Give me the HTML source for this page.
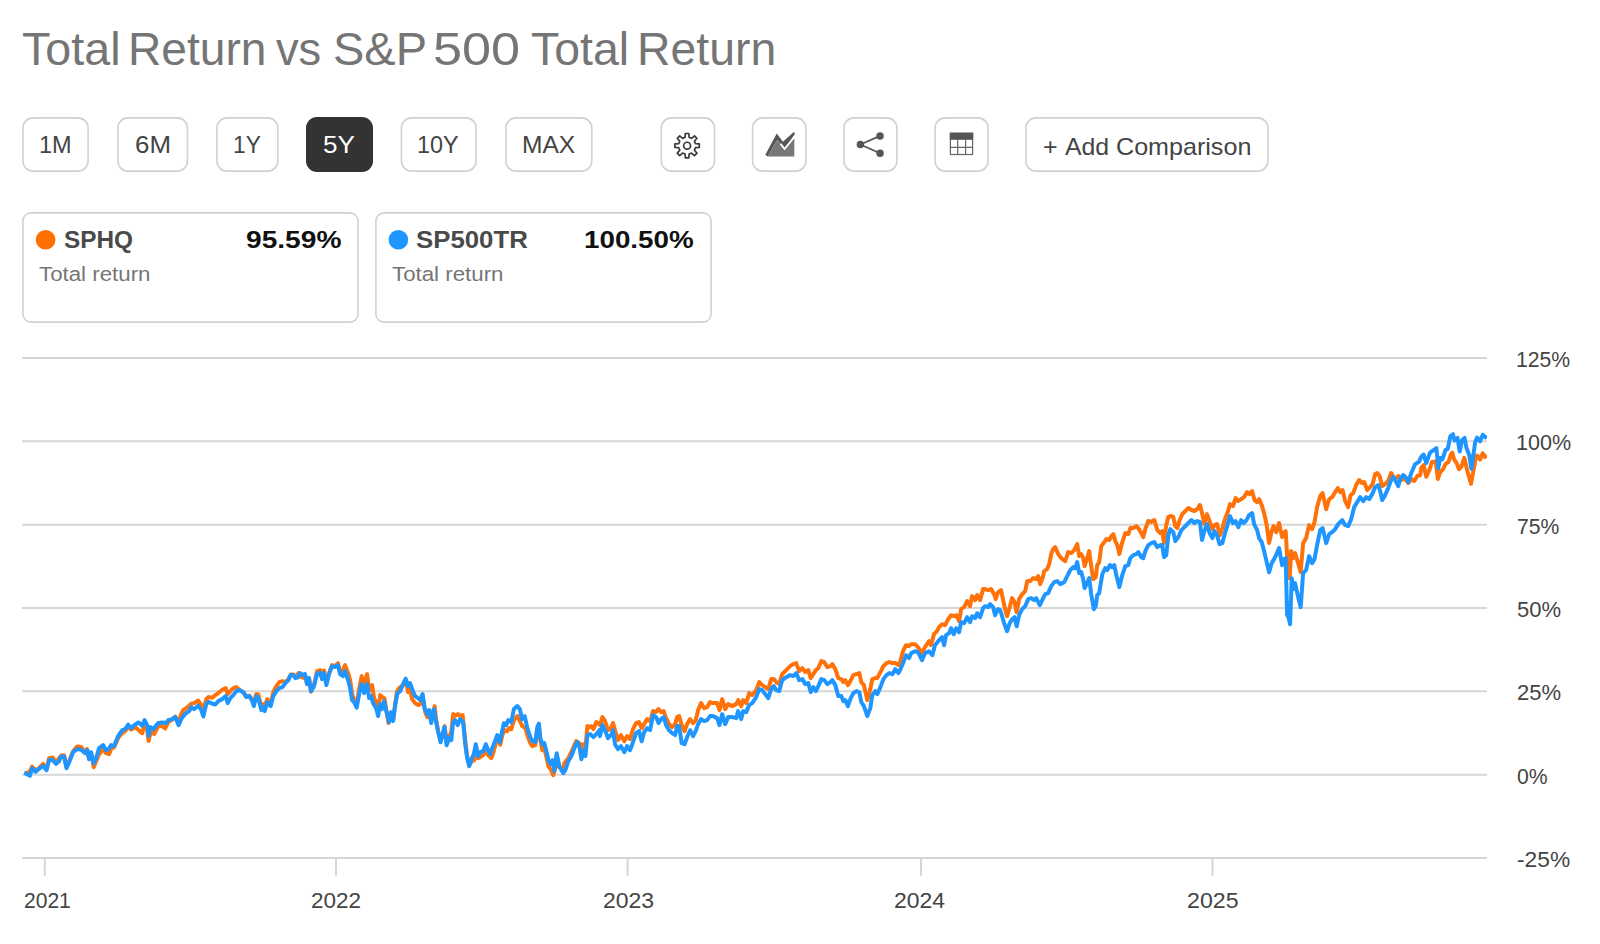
<!DOCTYPE html>
<html><head><meta charset="utf-8">
<style>
html,body{margin:0;padding:0;background:#fff;}
body{width:1600px;height:944px;position:relative;overflow:hidden;font-family:"Liberation Sans",sans-serif;}
.t{position:absolute;white-space:nowrap;line-height:1;transform-origin:0 0;}
.btn{position:absolute;top:117px;height:55px;box-sizing:border-box;border:2px solid #d7d7d7;border-radius:11px;background:#fff;}
.btn.on{background:#333;border-color:#333;}
.card{position:absolute;top:212px;height:111px;box-sizing:border-box;border:2px solid #d7d7d7;border-radius:9px;background:#fff;}
svg{position:absolute;left:0;top:0;}
</style></head><body>
<svg width="1600" height="944" viewBox="0 0 1600 944">
<rect x="22.90" y="117.90" width="65.20" height="53.20" rx="10.10" fill="#fff" stroke="#d1d1d1" stroke-width="1.6"/><rect x="117.90" y="117.90" width="69.50" height="53.20" rx="10.10" fill="#fff" stroke="#d1d1d1" stroke-width="1.6"/><rect x="216.90" y="117.90" width="60.90" height="53.20" rx="10.10" fill="#fff" stroke="#d1d1d1" stroke-width="1.6"/><rect x="306.00" y="117.00" width="67.00" height="55.00" rx="11" fill="#333"/><rect x="401.40" y="117.90" width="74.70" height="53.20" rx="10.10" fill="#fff" stroke="#d1d1d1" stroke-width="1.6"/><rect x="505.90" y="117.90" width="85.90" height="53.20" rx="10.10" fill="#fff" stroke="#d1d1d1" stroke-width="1.6"/><rect x="661.30" y="117.90" width="53.20" height="53.20" rx="10.10" fill="#fff" stroke="#d1d1d1" stroke-width="1.6"/><rect x="752.60" y="117.90" width="53.30" height="53.20" rx="10.10" fill="#fff" stroke="#d1d1d1" stroke-width="1.6"/><rect x="843.90" y="117.90" width="53.00" height="53.20" rx="10.10" fill="#fff" stroke="#d1d1d1" stroke-width="1.6"/><rect x="935.10" y="117.90" width="53.00" height="53.20" rx="10.10" fill="#fff" stroke="#d1d1d1" stroke-width="1.6"/><rect x="1025.90" y="117.90" width="242.00" height="53.20" rx="10.10" fill="#fff" stroke="#d1d1d1" stroke-width="1.6"/><rect x="22.90" y="212.90" width="335.20" height="109.20" rx="8.10" fill="#fff" stroke="#d1d1d1" stroke-width="1.6"/><rect x="375.90" y="212.90" width="335.20" height="109.20" rx="8.10" fill="#fff" stroke="#d1d1d1" stroke-width="1.6"/>
<g stroke="#d6d6d6" stroke-width="2" fill="none">
<path d="M22 358.00H1487 M22 441.33H1487 M22 524.67H1487 M22 608.00H1487 M22 691.33H1487 M22 774.67H1487 M22 858.00H1487"/>
<path d="M44.8 858V875.7 M336 858V875.7 M627.6 858V875.7 M921 858V875.7 M1212.5 858V875.7"/>
</g>
<defs><clipPath id="cl"><rect x="20" y="340" width="1467" height="520"/></clipPath></defs>
<!--LINES-->
<path d="M24.4 772.8 L27.0 773.2 L30.0 771.2 L32.0 766.6 L35.6 770.2 L39.0 768.2 L43.1 763.8 L46.5 769.2 L49.1 758.2 L52.5 757.4 L56.1 762.2 L59.1 758.2 L61.1 755.6 L64.1 755.2 L66.5 767.2 L69.1 761.2 L73.1 751.2 L77.1 746.5 L81.1 747.1 L85.1 752.2 L87.1 749.1 L89.1 758.2 L91.1 753.2 L93.7 767.2 L96.1 761.2 L99.1 754.2 L103.1 749.1 L106.1 753.2 L109.1 754.2 L111.1 749.1 L114.1 747.1 L118.1 738.1 L122.2 733.1 L125.2 731.1 L128.2 727.1 L131.2 729.5 L135.2 727.1 L138.6 730.1 L142.2 733.1 L144.6 724.1 L147.2 730.1 L148.6 741.1 L150.6 732.1 L154.2 734.1 L158.2 726.1 L162.2 726.1 L165.2 728.5 L168.2 722.1 L172.2 719.7 L175.2 716.5 L178.6 723.1 L181.2 714.1 L183.2 710.1 L186.2 708.1 L189.2 705.7 L191.2 703.7 L194.2 703.1 L198.2 700.5 L201.3 705.1 L203.3 710.1 L206.3 699.1 L208.3 697.1 L212.3 697.7 L215.3 695.1 L218.3 693.1 L222.3 689.7 L225.7 688.1 L227.7 694.1 L230.3 691.1 L233.3 688.1 L236.3 687.1 L239.3 689.7 L243.3 692.1 L246.3 696.5 L249.3 695.7 L251.9 699.1 L253.9 703.1 L256.3 694.1 L258.3 694.5 L261.3 707.1 L263.3 704.1 L264.7 706.1 L267.3 699.1 L270.7 704.1 L273.3 692.1 L276.3 686.1 L279.3 682.1 L282.4 681.1 L285.4 682.1 L288.4 679.1 L290.8 674.5 L293.4 674.5 L295.4 677.1 L298.4 673.1 L300.0 676.1 L303.0 677.7 L305.0 675.1 L307.0 683.1 L309.0 678.1 L311.0 691.7 L314.0 685.1 L317.0 671.1 L320.0 670.1 L322.0 674.1 L324.0 670.5 L326.4 683.1 L329.0 673.1 L332.0 665.1 L335.0 666.1 L338.0 663.1 L340.1 672.5 L342.5 671.1 L345.1 665.1 L348.1 673.1 L350.1 680.1 L352.1 694.1 L354.1 700.1 L356.7 705.1 L359.1 689.1 L361.7 676.1 L364.1 686.1 L367.1 674.1 L369.1 690.1 L372.1 685.1 L374.1 698.1 L377.1 704.1 L378.5 710.1 L380.1 695.1 L382.5 697.1 L384.5 698.5 L387.1 715.1 L388.5 723.1 L391.1 713.1 L393.1 720.1 L395.1 704.1 L397.1 691.1 L399.1 688.1 L403.1 685.1 L405.7 680.1 L408.1 692.1 L410.1 690.1 L412.1 699.1 L415.1 703.1 L418.1 705.1 L420.2 704.1 L422.6 696.1 L425.2 712.1 L427.2 717.1 L429.2 711.1 L431.2 721.1 L434.6 706.1 L436.2 720.1 L438.2 731.1 L440.6 741.2 L442.6 735.1 L444.6 726.1 L446.6 742.2 L449.2 736.1 L451.2 732.1 L453.2 714.1 L455.2 715.7 L458.2 714.1 L460.2 716.1 L462.6 715.1 L465.2 740.2 L467.2 756.2 L469.2 765.2 L471.8 761.2 L474.2 760.2 L476.2 748.2 L478.2 758.2 L480.2 757.2 L483.2 755.2 L485.8 748.2 L488.2 755.2 L491.2 758.2 L493.2 753.2 L495.2 745.2 L497.2 738.1 L500.3 744.6 L502.3 735.1 L504.7 730.1 L507.3 731.1 L509.3 728.1 L511.3 729.1 L513.9 720.1 L517.3 716.1 L519.9 721.1 L522.3 726.1 L525.3 728.1 L528.3 738.1 L530.3 743.2 L532.3 746.2 L535.3 745.2 L537.3 730.1 L538.9 726.1 L540.3 740.2 L542.3 750.2 L544.3 748.2 L546.7 758.2 L548.3 766.2 L550.7 769.2 L553.3 775.2 L555.3 768.2 L556.7 756.2 L559.3 767.2 L562.3 770.2 L564.3 763.2 L568.3 758.2 L571.3 752.2 L574.3 745.2 L576.3 741.2 L579.3 743.2 L581.4 753.2 L582.8 744.2 L585.4 748.2 L587.4 726.1 L590.4 727.1 L591.4 726.1 L593.4 729.1 L596.4 722.1 L599.4 724.1 L600.0 725.1 L602.4 717.1 L605.0 721.1 L608.0 730.2 L611.0 728.1 L613.0 723.1 L615.0 730.2 L618.0 740.2 L621.0 735.2 L624.4 741.2 L627.0 736.2 L630.0 739.2 L633.0 729.1 L636.0 723.1 L639.0 722.1 L641.7 728.1 L644.1 724.1 L647.1 719.1 L650.1 721.1 L653.1 711.1 L656.1 712.1 L658.5 709.1 L661.1 712.1 L663.7 711.1 L666.1 718.1 L669.1 724.1 L672.1 727.1 L675.1 724.1 L677.1 717.1 L679.1 716.1 L681.7 725.1 L684.5 731.2 L687.1 724.1 L690.1 719.1 L693.1 723.1 L695.7 720.1 L698.1 710.1 L701.1 703.1 L704.1 708.1 L707.1 707.1 L710.1 702.1 L713.1 703.1 L717.1 703.1 L719.5 710.1 L722.2 699.1 L725.2 709.1 L728.2 704.1 L732.2 706.1 L736.2 704.1 L738.2 700.1 L741.2 706.1 L743.2 700.1 L746.2 703.1 L749.2 693.1 L752.2 695.1 L756.2 690.1 L759.2 682.1 L762.2 685.1 L765.2 687.1 L768.2 689.1 L771.2 679.1 L773.8 679.1 L776.2 682.1 L779.2 684.1 L782.2 674.1 L786.2 670.1 L790.2 666.1 L793.2 664.1 L796.2 663.1 L799.2 671.1 L802.3 668.1 L805.3 672.1 L808.3 670.1 L810.7 678.1 L813.3 674.1 L815.9 670.1 L818.3 668.1 L821.3 661.1 L824.3 662.1 L827.3 667.1 L830.3 666.1 L832.3 664.1 L835.3 669.1 L838.3 678.1 L841.3 679.1 L843.3 682.1 L845.3 680.1 L847.9 685.1 L850.3 681.1 L853.3 675.1 L856.3 674.1 L859.3 673.1 L861.3 682.1 L863.9 685.1 L867.3 700.1 L870.3 689.1 L872.3 679.1 L875.3 678.1 L877.3 678.1 L880.4 672.1 L883.4 666.1 L886.4 663.1 L889.4 662.1 L892.4 663.1 L895.4 663.1 L898.4 665.1 L900.0 662.2 L903.0 651.2 L906.0 645.2 L909.0 646.2 L911.0 644.2 L915.0 644.2 L918.0 647.2 L922.0 653.2 L925.0 647.2 L929.0 641.2 L931.0 645.2 L934.0 634.2 L937.0 631.2 L939.0 627.2 L942.1 624.2 L945.1 625.2 L948.1 619.2 L951.1 615.2 L954.1 616.2 L956.1 615.2 L959.1 621.2 L961.1 609.2 L964.1 607.2 L967.1 601.1 L970.1 606.2 L972.1 596.1 L975.1 600.1 L977.1 595.1 L980.1 600.1 L983.1 589.1 L985.1 589.1 L988.1 590.1 L991.1 589.1 L994.1 594.1 L995.7 599.1 L998.1 592.1 L1001.1 590.1 L1003.1 600.1 L1005.1 609.2 L1007.1 616.2 L1009.7 607.2 L1012.1 598.1 L1014.5 602.1 L1016.7 612.2 L1019.1 599.1 L1022.2 594.1 L1025.2 591.1 L1027.2 581.1 L1030.2 581.1 L1033.2 578.1 L1036.2 579.1 L1038.2 576.1 L1040.2 584.1 L1042.6 578.1 L1044.2 571.1 L1047.2 569.1 L1049.2 564.1 L1051.2 554.1 L1053.2 549.1 L1055.2 547.1 L1058.2 554.1 L1061.2 558.1 L1065.2 561.1 L1068.2 552.1 L1071.2 553.1 L1074.2 550.1 L1077.2 544.1 L1079.2 556.1 L1081.2 554.1 L1083.2 558.1 L1084.6 566.1 L1087.2 558.1 L1089.2 551.1 L1091.2 566.1 L1093.2 579.1 L1095.8 577.1 L1097.2 565.1 L1099.2 562.1 L1101.3 546.1 L1104.3 542.1 L1106.3 539.1 L1109.3 540.1 L1111.3 536.1 L1113.3 534.1 L1115.3 541.1 L1117.3 545.1 L1119.3 554.1 L1122.3 542.1 L1125.3 533.1 L1128.3 534.1 L1130.3 528.1 L1133.3 528.1 L1136.3 526.1 L1138.3 528.1 L1141.3 533.1 L1143.3 537.1 L1145.3 529.1 L1148.3 521.0 L1151.3 522.0 L1154.3 520.0 L1157.3 530.1 L1160.3 533.1 L1162.3 531.1 L1163.9 543.1 L1166.3 525.1 L1168.3 517.0 L1171.3 516.0 L1173.3 517.0 L1175.3 526.1 L1177.3 528.1 L1179.3 521.0 L1182.4 514.0 L1185.4 511.0 L1188.4 508.0 L1191.4 510.0 L1194.4 511.0 L1197.4 509.0 L1199.8 505.0 L1200.0 505.1 L1202.0 513.1 L1204.4 524.1 L1207.0 514.1 L1209.6 521.1 L1212.4 529.1 L1214.4 525.1 L1217.0 524.1 L1220.0 535.1 L1222.4 528.1 L1225.0 519.1 L1228.0 511.1 L1230.0 504.1 L1233.0 506.1 L1235.6 498.1 L1238.0 501.1 L1241.1 499.1 L1244.1 497.1 L1247.1 492.1 L1249.7 494.1 L1252.1 491.1 L1254.5 500.1 L1257.1 502.1 L1259.1 499.1 L1261.7 505.1 L1264.1 513.1 L1266.5 524.1 L1269.1 543.1 L1271.7 531.1 L1273.7 526.1 L1276.1 532.1 L1279.1 523.1 L1282.1 537.1 L1284.1 533.1 L1285.7 531.1 L1287.1 556.1 L1289.7 578.2 L1291.1 551.1 L1293.1 558.1 L1295.1 553.1 L1298.1 563.1 L1300.7 572.2 L1303.1 543.1 L1306.1 538.1 L1309.1 525.1 L1312.1 529.1 L1314.5 522.1 L1317.1 507.1 L1320.2 496.1 L1322.6 493.1 L1326.2 509.1 L1329.2 499.1 L1332.2 497.1 L1335.2 492.1 L1337.8 488.1 L1340.2 492.1 L1342.6 490.1 L1345.2 501.1 L1348.2 507.1 L1350.6 495.1 L1353.2 493.1 L1356.2 485.1 L1359.2 480.0 L1362.2 483.0 L1364.2 482.0 L1367.2 490.1 L1370.2 487.1 L1372.6 484.0 L1375.2 474.0 L1377.2 473.0 L1379.6 476.0 L1382.2 486.1 L1385.2 484.0 L1388.2 481.0 L1391.2 473.0 L1393.8 478.0 L1396.2 478.0 L1398.6 476.0 L1401.3 480.0 L1404.3 478.0 L1408.3 483.0 L1411.3 479.0 L1414.3 481.0 L1417.3 476.0 L1420.3 475.0 L1421.4 467.7 L1423.6 465.0 L1426.3 476.7 L1429.7 469.2 L1431.9 462.0 L1435.7 461.6 L1437.9 478.9 L1440.2 472.2 L1443.2 469.2 L1445.5 463.9 L1448.5 462.0 L1450.7 454.9 L1452.2 452.6 L1454.1 459.4 L1456.7 463.2 L1459.0 469.2 L1461.3 466.9 L1464.3 457.9 L1467.3 470.7 L1471.0 483.8 L1473.3 471.4 L1475.9 457.1 L1477.1 455.6 L1480.1 459.4 L1482.7 453.4 L1485.0 457.1 L1486.8 454.9" fill="none" stroke="#ff7209" stroke-width="4" stroke-linejoin="round" stroke-linecap="butt" clip-path="url(#cl)"/>
<path d="M24.4 772.8 L27.0 774.2 L30.0 775.8 L32.0 768.2 L35.6 771.8 L39.0 768.8 L43.1 765.8 L46.5 770.2 L49.1 760.2 L52.5 759.8 L56.1 763.8 L59.1 761.2 L61.1 756.6 L64.1 756.6 L66.5 768.2 L69.1 762.2 L73.1 752.2 L77.1 749.1 L81.1 749.7 L85.1 753.2 L87.1 750.2 L89.1 759.2 L91.1 752.2 L93.7 763.2 L96.1 758.2 L99.1 748.1 L103.1 745.1 L106.1 750.2 L109.1 748.5 L111.1 745.1 L114.1 746.1 L118.1 736.1 L122.2 730.1 L125.2 729.1 L128.2 724.7 L131.2 728.1 L135.2 724.5 L138.6 722.5 L142.2 725.7 L144.6 720.1 L147.2 725.1 L148.6 736.1 L150.6 727.1 L153.2 729.1 L158.2 723.1 L162.2 722.5 L166.2 723.1 L168.2 720.1 L172.2 719.1 L175.2 717.1 L178.6 725.1 L181.2 719.1 L185.2 713.7 L189.2 711.1 L191.2 707.1 L194.2 709.1 L198.2 705.7 L201.3 710.1 L203.3 716.5 L206.3 704.1 L208.3 701.7 L212.3 703.7 L215.3 704.5 L218.3 701.1 L222.3 699.1 L225.7 696.1 L227.7 703.1 L230.3 698.1 L233.3 695.1 L236.3 691.1 L239.3 690.1 L243.3 692.1 L246.3 697.1 L249.3 696.1 L251.9 700.1 L253.9 706.1 L256.3 696.1 L258.3 698.1 L261.3 710.1 L263.3 707.1 L264.7 711.1 L267.3 702.1 L270.7 706.1 L273.3 696.1 L276.3 691.1 L279.3 688.1 L282.4 687.1 L285.4 683.1 L288.4 680.1 L290.8 675.1 L293.4 675.1 L295.4 678.1 L298.4 677.1 L300.0 673.1 L303.0 675.1 L305.0 674.1 L307.0 684.1 L309.0 678.1 L311.0 691.1 L314.0 686.1 L317.0 674.1 L320.0 672.5 L322.0 679.1 L324.0 673.1 L326.4 685.1 L329.0 674.1 L332.0 666.1 L335.0 667.1 L338.0 665.1 L340.1 674.1 L343.1 676.1 L345.1 671.1 L348.1 680.1 L350.1 688.1 L352.1 700.1 L354.1 702.1 L356.7 707.7 L359.1 694.1 L361.7 684.1 L364.1 693.1 L367.1 684.1 L369.1 698.1 L371.1 696.1 L373.1 703.1 L376.1 708.1 L378.1 716.1 L380.1 704.1 L382.1 709.1 L384.1 701.1 L387.1 714.1 L389.1 722.1 L391.1 712.1 L393.1 721.1 L395.1 706.1 L397.1 694.1 L400.1 691.1 L403.1 684.1 L405.7 678.7 L408.1 686.1 L410.1 683.1 L412.1 689.1 L415.1 696.1 L418.1 698.1 L420.2 700.1 L422.6 694.1 L424.6 708.1 L427.2 714.1 L429.2 710.1 L431.2 723.1 L433.8 709.1 L436.2 722.1 L438.2 732.1 L440.6 742.2 L442.6 734.1 L444.6 727.1 L446.6 745.2 L449.2 738.1 L451.2 740.2 L453.2 722.1 L455.2 720.1 L457.8 725.1 L460.2 719.1 L463.2 722.1 L465.2 744.2 L467.2 758.2 L469.2 766.2 L471.8 758.2 L473.8 754.2 L475.8 744.2 L477.8 756.2 L480.2 752.2 L483.2 751.2 L485.8 744.2 L488.2 750.2 L490.2 754.2 L492.2 748.2 L494.6 742.2 L497.2 735.1 L499.8 742.2 L501.9 732.1 L503.9 723.1 L506.3 725.1 L508.3 720.1 L511.3 722.1 L513.9 709.1 L517.3 706.1 L519.9 709.1 L521.9 719.1 L524.7 716.1 L527.3 728.1 L530.3 737.1 L532.3 741.2 L535.3 742.2 L537.3 727.1 L538.9 723.7 L540.3 738.1 L542.3 744.2 L544.3 743.2 L546.7 752.2 L548.7 761.2 L550.7 764.2 L552.7 760.2 L554.3 771.2 L556.7 753.2 L559.3 766.2 L563.3 773.2 L565.3 770.2 L568.3 761.2 L571.3 756.2 L574.3 748.2 L577.3 742.2 L579.3 746.2 L581.4 759.2 L583.4 750.2 L585.4 756.2 L587.4 735.1 L590.4 734.1 L593.4 737.1 L596.4 734.1 L599.4 730.1 L600.0 736.2 L602.4 725.1 L605.0 730.2 L608.0 738.2 L611.0 735.2 L613.0 730.2 L615.0 744.2 L618.0 749.2 L621.0 746.2 L624.4 752.2 L627.0 746.2 L630.0 750.2 L633.0 742.2 L636.0 733.2 L639.0 731.2 L641.7 741.2 L644.1 732.2 L647.1 728.1 L650.1 730.2 L653.1 715.1 L656.1 717.1 L658.5 723.1 L661.1 719.1 L663.7 717.1 L666.1 725.1 L669.1 730.2 L672.1 733.2 L675.1 735.2 L677.1 726.1 L679.1 726.1 L681.7 743.2 L684.5 744.2 L687.1 737.2 L690.1 730.2 L693.1 736.2 L695.7 731.2 L698.1 724.1 L701.1 719.1 L704.1 721.1 L707.1 720.1 L710.1 716.1 L713.1 716.1 L717.1 718.1 L719.5 725.1 L722.2 714.1 L725.2 724.1 L728.2 717.1 L732.2 717.1 L736.2 718.1 L738.2 711.1 L741.2 719.1 L743.2 711.1 L746.2 712.1 L749.2 705.1 L752.2 703.1 L756.2 697.1 L759.2 689.1 L762.2 690.1 L765.2 694.1 L768.2 698.1 L771.2 689.1 L773.8 686.1 L776.2 690.1 L779.2 691.1 L782.2 680.1 L786.2 677.1 L790.2 675.1 L793.2 676.1 L796.2 673.1 L799.2 680.1 L802.3 679.1 L805.3 684.1 L808.3 683.1 L810.7 692.1 L813.3 687.1 L815.9 691.1 L818.3 686.1 L821.3 679.1 L824.3 680.1 L827.3 684.1 L830.3 682.1 L832.3 680.1 L835.3 685.1 L838.3 696.1 L841.3 696.1 L843.3 701.1 L845.3 700.1 L847.9 706.1 L850.3 699.1 L853.3 693.1 L856.3 691.1 L859.3 692.1 L861.3 702.1 L863.9 706.1 L867.3 716.1 L870.3 708.1 L872.3 695.1 L875.3 691.1 L877.3 694.1 L880.4 687.1 L883.4 679.1 L886.4 675.1 L889.4 673.1 L892.4 674.1 L895.4 669.1 L898.4 673.1 L900.0 670.2 L903.0 663.2 L906.0 655.2 L909.0 658.2 L911.0 653.2 L915.0 651.2 L918.0 652.2 L922.0 660.2 L925.0 653.2 L929.0 651.2 L932.4 655.2 L935.0 645.2 L939.0 640.2 L942.1 637.2 L944.1 645.2 L946.1 635.2 L949.1 633.2 L951.1 628.2 L953.7 634.2 L956.1 628.2 L959.1 632.2 L961.1 622.2 L964.1 623.2 L967.1 617.2 L970.1 622.2 L972.1 616.2 L975.1 618.2 L977.1 613.2 L980.1 617.2 L983.1 608.2 L985.1 606.2 L988.1 607.2 L990.1 604.1 L993.1 607.2 L995.1 615.2 L997.7 609.2 L1000.1 610.2 L1002.1 616.2 L1004.1 623.2 L1007.1 631.2 L1009.7 623.2 L1012.1 619.2 L1014.5 617.2 L1016.7 626.2 L1019.1 615.2 L1022.2 609.2 L1025.2 606.2 L1028.2 599.1 L1031.2 598.1 L1034.2 600.1 L1036.2 598.1 L1039.8 605.2 L1042.2 600.1 L1045.2 594.1 L1048.2 593.1 L1051.2 586.1 L1054.2 582.1 L1057.2 581.1 L1060.2 584.1 L1064.2 582.1 L1067.2 576.1 L1070.2 570.1 L1073.2 567.1 L1075.2 568.1 L1077.2 562.1 L1079.2 573.1 L1081.2 572.1 L1083.2 579.1 L1084.6 588.1 L1087.2 583.1 L1089.2 578.1 L1091.2 594.1 L1093.8 609.2 L1095.8 606.2 L1097.2 595.1 L1099.2 593.1 L1102.3 574.1 L1105.3 568.1 L1107.3 570.1 L1109.9 565.1 L1112.3 567.1 L1114.3 565.1 L1116.3 575.1 L1119.3 587.1 L1122.3 575.1 L1125.3 566.1 L1128.3 565.1 L1130.3 558.1 L1133.3 555.1 L1136.3 554.1 L1138.3 552.1 L1141.3 557.1 L1143.3 558.1 L1145.3 551.1 L1148.3 545.1 L1151.3 543.1 L1154.3 542.1 L1157.3 547.1 L1160.3 545.1 L1162.3 545.1 L1163.9 557.1 L1166.3 555.1 L1168.3 535.1 L1170.3 529.1 L1173.3 532.1 L1175.3 541.1 L1178.3 537.1 L1181.4 530.1 L1184.4 527.1 L1188.4 523.0 L1191.4 520.0 L1194.4 523.0 L1197.4 521.0 L1200.0 522.1 L1202.0 540.1 L1204.4 531.1 L1207.0 524.1 L1209.6 533.1 L1212.4 538.1 L1214.4 531.1 L1217.0 535.1 L1219.6 544.1 L1222.4 543.1 L1225.0 533.1 L1228.0 523.1 L1230.0 516.1 L1233.0 523.1 L1235.6 521.1 L1238.4 527.1 L1241.1 520.1 L1243.7 523.1 L1246.5 520.1 L1249.1 515.1 L1252.1 513.1 L1254.1 524.1 L1257.1 530.1 L1259.1 538.1 L1261.7 542.1 L1264.1 551.1 L1266.7 562.1 L1269.1 572.2 L1271.7 563.1 L1274.1 559.1 L1276.5 554.1 L1279.1 548.1 L1282.1 565.2 L1284.1 559.1 L1285.7 558.1 L1287.1 615.2 L1288.5 617.2 L1290.1 624.2 L1291.7 578.2 L1293.1 589.2 L1295.1 583.2 L1297.7 595.2 L1300.7 607.2 L1303.1 573.2 L1306.1 570.2 L1309.1 556.1 L1312.1 563.1 L1314.5 559.1 L1317.1 545.1 L1320.2 530.1 L1322.6 528.1 L1326.2 543.1 L1329.2 534.1 L1332.2 532.1 L1335.2 529.1 L1338.2 524.1 L1342.2 520.1 L1345.2 525.1 L1348.2 526.1 L1351.2 519.1 L1354.2 507.1 L1357.2 502.1 L1360.2 497.1 L1363.2 501.1 L1366.2 497.1 L1369.2 499.1 L1372.2 494.1 L1375.2 487.1 L1378.2 485.1 L1380.2 491.1 L1382.2 500.1 L1385.2 495.1 L1388.2 488.1 L1391.2 480.0 L1393.2 477.0 L1395.2 480.0 L1398.2 486.1 L1400.3 479.0 L1403.3 475.0 L1406.3 478.0 L1408.3 482.0 L1411.3 473.0 L1414.3 466.0 L1414.6 464.7 L1419.1 461.6 L1421.0 457.1 L1423.6 454.5 L1426.3 463.2 L1430.0 452.6 L1436.4 448.1 L1438.3 468.4 L1440.2 457.9 L1442.4 459.4 L1445.5 450.0 L1447.7 449.2 L1450.3 436.4 L1453.0 434.2 L1454.5 440.6 L1457.5 437.9 L1459.7 451.5 L1462.0 440.2 L1464.6 437.9 L1466.5 448.1 L1469.2 454.9 L1471.4 468.8 L1473.3 455.6 L1475.2 442.1 L1477.1 437.6 L1480.1 441.3 L1482.7 434.9 L1486.1 437.6 L1486.8 438.7" fill="none" stroke="#1f96ff" stroke-width="4" stroke-linejoin="round" stroke-linecap="butt" clip-path="url(#cl)"/>
<!--/LINES-->
<circle cx="45.6" cy="239.8" r="9.8" fill="#ff7000"/>
<circle cx="398.4" cy="239.8" r="9.8" fill="#1e96ff"/>
<!-- gear -->
<path d="M685.09 137.34 L685.37 133.52 L688.83 133.52 L689.11 137.34 L691.59 138.37 L694.49 135.86 L696.94 138.31 L694.43 141.21 L695.46 143.69 L699.28 143.97 L699.28 147.43 L695.46 147.71 L694.43 150.19 L696.94 153.09 L694.49 155.54 L691.59 153.03 L689.11 154.06 L688.83 157.88 L685.37 157.88 L685.09 154.06 L682.61 153.03 L679.71 155.54 L677.26 153.09 L679.77 150.19 L678.74 147.71 L674.92 147.43 L674.92 143.97 L678.74 143.69 L679.77 141.21 L677.26 138.31 L679.71 135.86 L682.61 138.37Z" fill="none" stroke="#3a3a3a" stroke-width="1.7" stroke-linejoin="round"/>
<circle cx="687.1" cy="145.7" r="3.45" fill="none" stroke="#3a3a3a" stroke-width="1.7"/>
<!-- chart icon -->
<path d="M765.3 154.7L776.8 133.4L782.9 141.8L793.8 132L795 133.8L784.6 149L777.2 139.8L767.7 156.4Z" fill="#555"/>
<path d="M767.7 156.4L777.2 139.8L784.6 150L794.3 138.1V156.4Z" fill="#777"/>
<path d="M780.6 143.9L784.6 148.9L794.5 136.7" fill="none" stroke="#fff" stroke-width="1.7"/>
<!-- share -->
<g fill="#555" stroke="#555" stroke-width="1.7"><path d="M880.05 135.9L860.4 144.5L880.05 153.2" fill="none"/><circle cx="860.4" cy="144.5" r="2.9"/><circle cx="880.05" cy="135.9" r="2.9"/><circle cx="880.05" cy="153.2" r="2.9"/></g>
<!-- table -->
<g><rect x="950.4" y="133.3" width="22.2" height="21.2" fill="#fff" stroke="#666" stroke-width="1.2"/><rect x="949.8" y="132.7" width="23.4" height="7.1" fill="#555"/><path d="M957.7 139V155M965.6 139V155M950 147.3H973" stroke="#666" stroke-width="1.2" fill="none"/></g>
</svg>
<span class="t" style="left:22.05px;top:25.00px;font-size:47px;font-weight:400;color:#757575;transform:scaleX(0.9922)">Total</span><span class="t" style="left:128.26px;top:25.00px;font-size:47px;font-weight:400;color:#757575;transform:scaleX(0.9811)">Return</span><span class="t" style="left:276.00px;top:25.00px;font-size:47px;font-weight:400;color:#757575;transform:scaleX(0.9625)">vs</span><span class="t" style="left:332.60px;top:25.00px;font-size:47px;font-weight:400;color:#757575;transform:scaleX(0.9997)">S&amp;P</span><span class="t" style="left:432.88px;top:25.00px;font-size:47px;font-weight:400;color:#757575;transform:scaleX(1.1106)">500</span><span class="t" style="left:531.06px;top:25.00px;font-size:47px;font-weight:400;color:#757575;transform:scaleX(0.9870)">Total</span><span class="t" style="left:636.74px;top:25.00px;font-size:47px;font-weight:400;color:#757575;transform:scaleX(0.9867)">Return</span><span class="t" style="left:38.74px;top:132.80px;font-size:24px;font-weight:400;color:#444444;transform:scaleX(0.9789)">1M</span><span class="t" style="left:134.57px;top:132.80px;font-size:24px;font-weight:400;color:#444444;transform:scaleX(1.0795)">6M</span><span class="t" style="left:232.95px;top:132.80px;font-size:24px;font-weight:400;color:#444444;transform:scaleX(0.9469)">1Y</span><span class="t" style="left:323.37px;top:132.80px;font-size:24px;font-weight:400;color:#ffffff;transform:scaleX(1.0862)">5Y</span><span class="t" style="left:416.64px;top:132.80px;font-size:24px;font-weight:400;color:#444444;transform:scaleX(0.9750)">10Y</span><span class="t" style="left:521.80px;top:132.80px;font-size:24px;font-weight:400;color:#444444;transform:scaleX(1.0227)">MAX</span><span class="t" style="left:1042.86px;top:134.60px;font-size:24px;font-weight:400;color:#444444;transform:scaleX(1.0419)">+</span><span class="t" style="left:1065.40px;top:134.60px;font-size:24px;font-weight:400;color:#444444;transform:scaleX(1.0341)">Add</span><span class="t" style="left:1116.10px;top:134.60px;font-size:24px;font-weight:400;color:#444444;transform:scaleX(1.0461)">Comparison</span><span class="t" style="left:63.55px;top:227.90px;font-size:24.4px;font-weight:700;color:#4a4a4a;transform:scaleX(0.9982)">SPHQ</span><span class="t" style="left:245.70px;top:227.90px;font-size:24.4px;font-weight:700;color:#111111;transform:scaleX(1.1538)">95.59%</span><span class="t" style="left:39.44px;top:264.40px;font-size:20.1px;font-weight:400;color:#757575;transform:scaleX(1.1091)">Total return</span><span class="t" style="left:416.19px;top:227.90px;font-size:24.4px;font-weight:700;color:#4a4a4a;transform:scaleX(1.0577)">SP500TR</span><span class="t" style="left:584.43px;top:227.90px;font-size:24.4px;font-weight:700;color:#111111;transform:scaleX(1.1389)">100.50%</span><span class="t" style="left:392.44px;top:264.40px;font-size:20.1px;font-weight:400;color:#757575;transform:scaleX(1.1091)">Total return</span><span class="t" style="left:1515.69px;top:349.00px;font-size:22.3px;font-weight:400;color:#444444;transform:scaleX(0.9505)">125%</span><span class="t" style="left:1515.56px;top:432.33px;font-size:22.3px;font-weight:400;color:#444444;transform:scaleX(0.9671)">100%</span><span class="t" style="left:1517.10px;top:515.67px;font-size:22.3px;font-weight:400;color:#444444;transform:scaleX(0.9497)">75%</span><span class="t" style="left:1517.06px;top:599.00px;font-size:22.3px;font-weight:400;color:#444444;transform:scaleX(0.9893)">50%</span><span class="t" style="left:1516.66px;top:682.33px;font-size:22.3px;font-weight:400;color:#444444;transform:scaleX(0.9893)">25%</span><span class="t" style="left:1517.09px;top:765.67px;font-size:22.3px;font-weight:400;color:#444444;transform:scaleX(0.9516)">0%</span><span class="t" style="left:1516.53px;top:849.00px;font-size:22.3px;font-weight:400;color:#444444;transform:scaleX(1.0203)">-25%</span><span class="t" style="left:23.80px;top:890.00px;font-size:22.3px;font-weight:400;color:#444444;transform:scaleX(0.9429)">2021</span><span class="t" style="left:311.04px;top:890.00px;font-size:22.3px;font-weight:400;color:#444444;transform:scaleX(1.0080)">2022</span><span class="t" style="left:602.52px;top:890.00px;font-size:22.3px;font-weight:400;color:#444444;transform:scaleX(1.0290)">2023</span><span class="t" style="left:894.02px;top:890.00px;font-size:22.3px;font-weight:400;color:#444444;transform:scaleX(1.0290)">2024</span><span class="t" style="left:1187.01px;top:890.00px;font-size:22.3px;font-weight:400;color:#444444;transform:scaleX(1.0395)">2025</span>
</body></html>
